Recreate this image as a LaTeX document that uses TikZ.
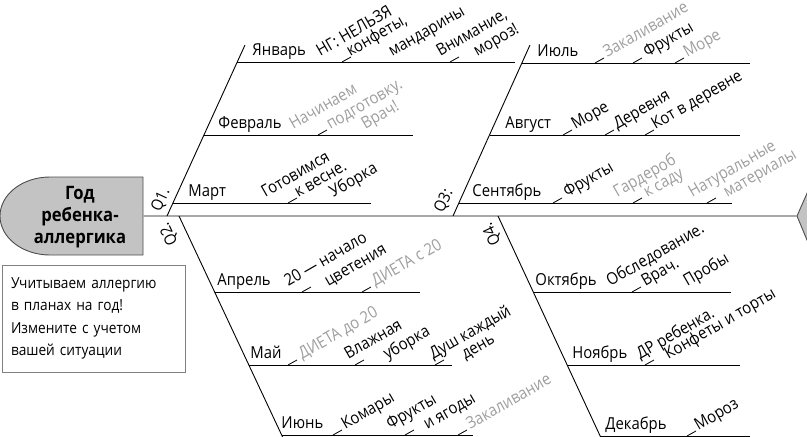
\documentclass[tikz,border=0pt]{standalone}
\usepackage{fontspec}
\setmainfont{Open Sans}[FakeStretch=0.9]
\definecolor{spinegray}{HTML}{A8A8A8}
\definecolor{headgray}{HTML}{C3C3C3}
\definecolor{itemgray}{HTML}{9E9E9E}
\definecolor{boxgray}{HTML}{808080}

\begin{document}
\begin{tikzpicture}[x=1pt, y=-1pt, line width=0.9pt,
  month/.style={font=\fontsize{16.5}{19}\selectfont, anchor=base west, inner sep=0pt},
  itm/.style={font=\fontsize{16.5}{19}\selectfont, anchor=base west, inner sep=0pt, rotate=30},
  twig/.style={line width=0.8pt},
  qlab/.style={font=\fontsize{16}{18}\selectfont, inner sep=0pt},
  spine/.style={spinegray, line width=2.5pt}]
  \useasboundingbox (0,0) rectangle (807,437);

  % head and tail
  \filldraw[fill=headgray, draw=black!70] (143,177) -- (50,177)
    arc[start angle=90, end angle=270, x radius=50pt, y radius=39pt] -- (143,255) -- cycle;
  \node[font=\fontsize{18.5}{22}\selectfont\bfseries, align=center] (head) at (80,217) {Год\\ребенка-\\аллергика};
  \filldraw[fill=headgray, draw=black!70] (797,216) -- (812,182) -- (812,252) -- cycle;
  \coordinate (hd) at (143,216);
  \coordinate (tail) at (797,216);
  \draw[spine] (hd) -- (tail);

  % bones
  \coordinate (q1a) at (167,216); \coordinate (q1b) at (245,45);
  \coordinate (q3a) at (453,216); \coordinate (q3b) at (530,45);
  \coordinate (q2a) at (179,216); \coordinate (q2b) at (284,440);
  \coordinate (q4a) at (498,216); \coordinate (q4b) at (602,440);
  \draw (q1a) -- (q1b) (q3a) -- (q3b) (q2a) -- (q2b) (q4a) -- (q4b);
  \node[qlab, rotate=65] (q1) at (161,200) {Q1.};
  \node[qlab, rotate=65] (q3) at (444,201) {Q3:};
  \node[qlab, rotate=115] (q2) at (169,234) {Q2.};
  \node[qlab, rotate=115] (q4) at (492,234) {Q4.};

  % months
  \foreach \n/\m/\lx/\xa/\xb/\y in {jan/Январь/252/237/515/62, feb/Февраль/218/204/413/135,
      mar/Март/188/173/371/203, jul/Июль/537/522/750/63, aug/Август/505/490/740/135,
      sep/Сентябрь/472/459/732/203, apr/Апрель/217/215/420/292, may/Май/250/249/452/365,
      jun/Июнь/281/282/473/435, oct/Октябрь/535/533/731/292, nov/Ноябрь/572/567/740/365,
      dec/Декабрь/605/600/750/436}{
    \coordinate (\n-s) at (\xa,\y);
    \coordinate (\n-e) at (\xb,\y);
    \draw (\n-s) -- (\n-e);
    \node[month] (\n) at (\lx,\y-7) {\m};
  }

  % items
  \foreach \x/\y/\col/\txt in {320/62/black/{НГ: НЕЛЬЗЯ}, 350/62/black/{конфеты,}, 392/62/black/мандарины,
      440/62/black/{Внимание,}, 477/62/black/мороз!,
      293/135/itemgray/Начинаем, 330/135/itemgray/подготовку., 365/135/itemgray/Врач!,
      265/203/black/Готовимся, 298/203/black/к весне., 333/203/black/Уборка,
      607/63/itemgray/Закаливание, 647/63/black/Фрукты, 687/63/itemgray/Море,
      575/135/black/Море, 617/135/black/Деревня, 655/135/black/Кот в деревне,
      567/203/black/Фрукты, 617/203/itemgray/Гардероб, 647/203/itemgray/к саду,
      692/203/itemgray/Натуральные, 727/203/itemgray/материалы,
      288/292/black/20 — начало, 328/292/black/цветения, 375/292/itemgray/ДИЕТА с 20,
      302/365/itemgray/ДИЕТА до 20, 348/365/black/Влажная, 387/365/black/уборка,
      433/365/black/Душ каждый, 465/365/black/день,
      345/435/black/Комары, 390/435/black/Фрукты, 427/435/black/и ягоды, 470/435/itemgray/Закаливание,
      610/292/black/Обследование., 645/292/black/Врач., 687/292/black/Пробы,
      640/365/black/ДР ребенка., 668/365/black/Конфеты и торты,
      698/436/black/Мороз}
    \node[itm, text=\col] (i\x-\y) at (\x,\y-5) {\txt};

  % twigs
  \foreach \x/\y in {342/62, 450/62, 318/135, 288/203, 595/63, 633/63, 675/63,
      563/135, 605/135, 645/135, 553/203, 633/203, 707/203, 302/292, 362/292,
      288/365, 355/365, 435/365, 333/435, 405/435, 458/435, 632/292, 645/365, 687/436}
    \draw[twig] (\x,\y) -- ++(9,-5);

  % note
  \node[draw=boxgray, line width=1pt, minimum width=183pt, minimum height=107pt, text width=165pt,
    align=left, inner sep=9pt, font=\fontsize{15.2}{22.5}\selectfont] (note) at (93.5,318.5)
    {Учитываем аллергию\\в планах на год!\\Измените с учетом\\вашей ситуации};
\end{tikzpicture}
\end{document}
